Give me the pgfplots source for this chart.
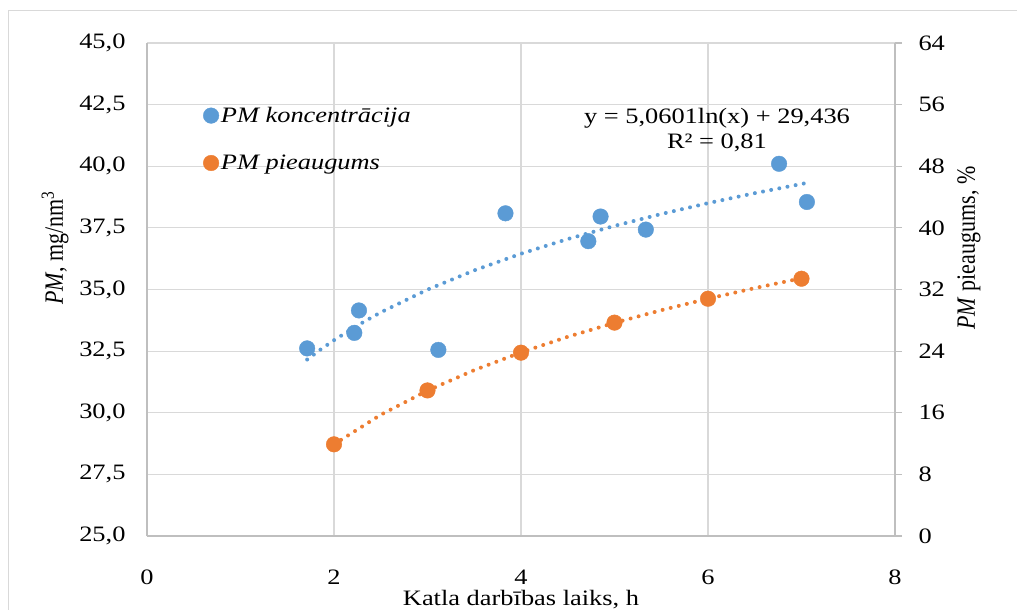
\documentclass[border=0pt]{standalone}
\usepackage{fontspec}
\usepackage{graphicx}
\setmainfont{Liberation Serif}[FakeStretch=1.2]
\newfontfamily\plainserif{Liberation Serif}
\usepackage{pgfplots}
\pgfplotsset{compat=1.18}
\definecolor{sblue}{HTML}{5B9BD5}
\definecolor{sorange}{HTML}{ED7D31}
\definecolor{gridc}{HTML}{D9D9D9}
\definecolor{axc}{HTML}{BFBFBF}
\pgfplotsset{every axis/.append style={font=\fontsize{22bp}{26bp}\selectfont}}
\begin{document}
\begin{tikzpicture}
\useasboundingbox (0,0) rectangle (1017bp,610bp);
\draw[gridc, line width=1bp] (8.5bp,0) -- (8.5bp,599.5bp) -- (1017bp,599.5bp);
\begin{axis}[
  at={(147bp,74bp)}, anchor=south west,
  scale only axis, width=748bp, height=493bp,
  xmin=0, xmax=8, ymin=25, ymax=45,
  xtick={0,2,4,6,8},
  ytick={25,27.5,30,32.5,35,37.5,40,42.5,45},
  axis x line*=bottom, axis y line*=left,
  axis line style={draw=axc, line width=1.2bp},
  grid=major, grid style={draw=gridc, line width=1.2bp},
  major tick length=0pt,
  /pgf/number format/assume math mode=true,
  yticklabel style={/pgf/number format/use comma, /pgf/number format/fixed,
    /pgf/number format/fixed zerofill, /pgf/number format/precision=1},
  yticklabel shift=18bp,
  xticklabel style={yshift=-30bp},
  xlabel={Katla darbības laiks, h},
  xlabel style={at={(axis description cs:0.5,0)}, anchor=center, yshift=-64bp},
  ylabel={\plainserif\scalebox{1}[1.2]{\textit{PM}, mg/nm\textsuperscript{3}}},
  ylabel style={at={(axis description cs:-0.123,0.584)}, anchor=center},
  legend style={draw=none, fill=none, at={(axis description cs:0.075,0.805)}, anchor=west,
    row sep=27bp, inner sep=0pt},
  legend cell align=left,
  clip=false,
]
\addplot[only marks, mark=*, mark size=7.8bp, color=sblue, mark options={fill=sblue, draw=sblue}]
  coordinates {(1.713,32.61) (2.217,33.24) (2.267,34.15) (3.116,32.55) (3.834,38.09)
               (4.72,36.96) (4.851,37.96) (5.335,37.43) (6.76,40.10) (7.058,38.55)};
\addlegendentry{\textit{PM koncentrācija}}
\addplot[forget plot, sblue, line width=4bp, line cap=round, dash pattern=on 0bp off 8.3bp]
  coordinates {(1.713,32.159) (1.85,32.549) (2,32.943) (2.25,33.539) (2.5,34.073) (3,34.995)
               (3.5,35.775) (4,36.451) (4.5,37.047) (5,37.580) (5.5,38.062) (6,38.503)
               (6.5,38.908) (7.058,39.324)};
\addlegendimage{only marks, mark=*, mark size=7.8bp, color=sorange, mark options={fill=sorange, draw=sorange}}
\addlegendentry{\textit{PM pieaugums}}
\node[align=center, font=\fontsize{22bp}{25bp}\selectfont] at (axis cs:6.096,41.45)
  {y = 5,0601ln(x) + 29,436\\R² = 0,81};
\end{axis}
\begin{axis}[
  at={(147bp,74bp)}, anchor=south west,
  scale only axis, width=748bp, height=493bp,
  xmin=0, xmax=8, ymin=0, ymax=64,
  axis x line=none, axis y line*=right,
  ytick={0,8,16,24,32,40,48,56,64},
  tick align=outside, major tick length=7bp,
  ytick style={draw=axc, line width=1.2bp},
  axis line style={draw=axc, line width=1.2bp},
  yticklabel style={anchor=west, xshift=13bp},
  /pgf/number format/assume math mode=true,
  ylabel={\plainserif\scalebox{1}[1.2]{\textit{PM} pieaugums, \%}},
  ylabel style={at={(axis description cs:1.099,0.584)}, anchor=center},
  clip=false,
]
\addplot[sorange, line width=4bp, line cap=round, dash pattern=on 0bp off 8.3bp]
  coordinates {(2,11.90) (2.5,15.74) (3,18.88) (3.5,21.53) (4,23.83) (4.5,25.86)
               (5,27.67) (5.5,29.31) (6,30.81) (6.5,32.18) (7,33.46)};
\addplot[only marks, mark=*, mark size=7.8bp, color=sorange, mark options={fill=sorange, draw=sorange}]
  coordinates {(2,11.9) (3,18.9) (4,23.8) (5,27.7) (6,30.8) (7,33.4)};
\end{axis}
\end{tikzpicture}
\end{document}
